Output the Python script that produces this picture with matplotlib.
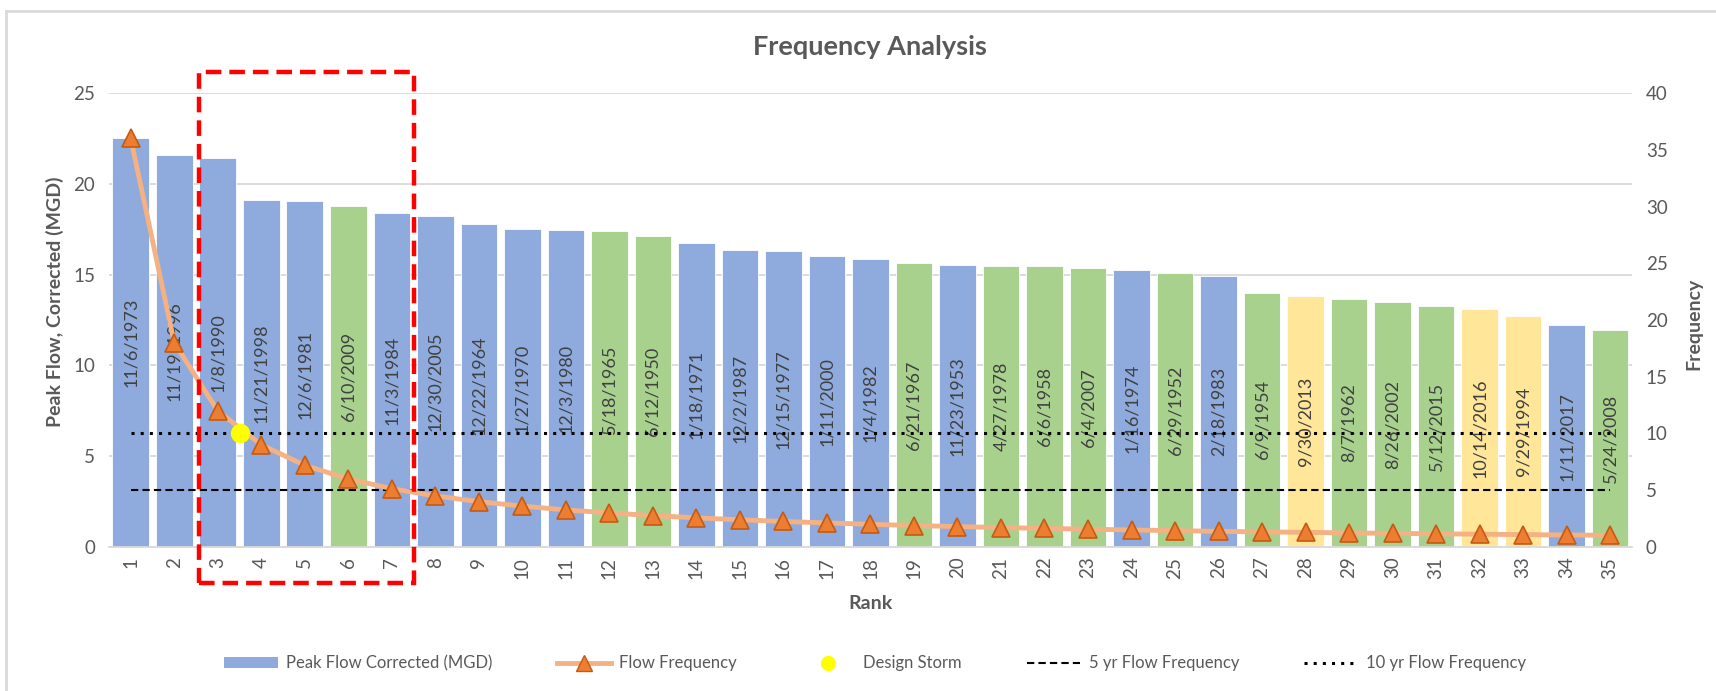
import numpy as np
import matplotlib.pyplot as plt
from matplotlib.patches import Rectangle, Patch
from matplotlib.lines import Line2D
from matplotlib.transforms import blended_transform_factory

plt.rcParams['font.family'] = ['Lato', 'DejaVu Sans']

# data
ranks = np.arange(1, 36)
peak_flow = [22.5, 21.6, 21.4, 19.1, 19.05, 18.8, 18.4, 18.2, 17.8, 17.5,
             17.45, 17.4, 17.1, 16.75, 16.35, 16.3, 16.0, 15.85, 15.65, 15.55,
             15.5, 15.45, 15.35, 15.25, 15.1, 14.9, 14.0, 13.8, 13.65, 13.5,
             13.25, 13.1, 12.7, 12.2, 11.95]
flow_freq = [36.0, 18.0, 12.0, 9.0, 7.2, 6.0, 5.14, 4.5, 4.0, 3.6,
             3.27, 3.0, 2.77, 2.57, 2.4, 2.25, 2.12, 2.0, 1.89, 1.8,
             1.71, 1.64, 1.57, 1.5, 1.44, 1.38, 1.33, 1.29, 1.24, 1.2,
             1.16, 1.13, 1.09, 1.06, 1.03]
dates = ['11/6/1973', '11/19/1996', '1/8/1990', '11/21/1998', '12/6/1981',
         '6/10/2009', '11/3/1984', '12/30/2005', '12/22/1964', '1/27/1970',
         '12/3/1980', '5/18/1965', '6/12/1950', '1/18/1971', '12/2/1987',
         '12/15/1977', '1/11/2000', '1/4/1982', '6/21/1967', '11/23/1953',
         '4/27/1978', '6/6/1958', '6/4/2007', '1/16/1974', '6/29/1952',
         '2/18/1983', '6/9/1954', '9/30/2013', '8/7/1962', '8/26/2002',
         '5/12/2015', '10/14/2016', '9/29/1994', '1/11/2017', '5/24/2008']
# W = winter storm, S = summer, F = fall
season = ['W', 'W', 'W', 'W', 'W', 'S', 'W', 'W', 'W', 'W',
          'W', 'S', 'S', 'W', 'W', 'W', 'W', 'W', 'S', 'W',
          'S', 'S', 'S', 'W', 'S', 'W', 'S', 'F', 'S', 'S',
          'S', 'F', 'F', 'W', 'S']
design_storm_x = 3.5
design_storm_y = 10.0
five_yr = 5.0
ten_yr = 10.0

season_colors = {'W': '#8FAADC', 'S': '#A9D18E', 'F': '#FFE699'}
txt = '#595959'

fig = plt.figure(figsize=(17.16, 6.91), dpi=100)
ax = fig.add_axes([0.0635, 0.2084, 0.8875, 0.657])
ax2 = ax.twinx()

ax.bar(ranks, peak_flow, width=0.84, color=[season_colors[s] for s in season],
       edgecolor='white', linewidth=0.6, zorder=2)
for r, v, d in zip(ranks, peak_flow, dates):
    ax.text(r, v / 2, d, rotation=90, ha='center', va='center',
            fontsize=13, color='#404040', zorder=3)

ax.set_xlim(0.5, 35.5)
ax.set_ylim(0, 25)
ax.set_yticks(range(0, 26, 5))
ax.set_xticks(ranks)
ax.set_xticklabels([str(r) for r in ranks], rotation=90)
ax.grid(axis='y', color='#D9D9D9', linewidth=1.3, zorder=0)
ax.set_axisbelow(True)
for s in ['top', 'left', 'right']:
    ax.spines[s].set_visible(False)
ax.spines['bottom'].set_color('#D9D9D9')
ax.spines['bottom'].set_linewidth(1.3)
ax.tick_params(axis='both', length=0, labelsize=13.5, labelcolor=txt)
ax.tick_params(axis='y', pad=10)
ax.tick_params(axis='x', pad=7)

ax2.set_ylim(0, 40)
ax2.set_yticks(range(0, 41, 5))
for s in ['top', 'left', 'right', 'bottom']:
    ax2.spines[s].set_visible(False)
ax2.tick_params(axis='y', length=0, labelsize=13.5, labelcolor=txt, pad=10)

ax2.hlines(ten_yr, ranks[0], ranks[-1], colors='black', linestyles=(0, (1, 2)),
           linewidth=2.2, zorder=3)
ax2.hlines(five_yr, ranks[0], ranks[-1], colors='black', linestyles=(0, (3.5, 2)),
           linewidth=1.5, zorder=3)
ax2.plot(ranks, flow_freq, color='#F4B183', linewidth=3.5, zorder=4)
ax2.plot(ranks, flow_freq, linestyle='none', marker='^', markersize=13,
         markerfacecolor='#ED7D31', markeredgecolor='#C55A11', markeredgewidth=1.2,
         zorder=5)
ax2.plot([design_storm_x], [design_storm_y], linestyle='none', marker='o',
         markersize=13, color='#FFFF00', zorder=6)

# red dashed highlight box
tr = blended_transform_factory(ax2.transData, ax2.transAxes)
box = Rectangle((2.56, -0.08), 4.94, 1.126, transform=tr, fill=False,
                edgecolor='#FF0000', linewidth=3.2, linestyle=(0, (3.5, 1.8)),
                clip_on=False, zorder=7)
ax2.add_patch(box)

fig.text(0.507, 0.932, 'Frequency Analysis', ha='center', va='center',
         fontsize=19.5, fontweight='bold', color=txt)
fig.text(0.507, 0.126, 'Rank', ha='center', va='center',
         fontsize=14, fontweight='bold', color=txt)
fig.text(0.032, 0.564, 'Peak Flow, Corrected (MGD)', rotation=90, ha='center',
         va='center', fontsize=14, fontweight='bold', color=txt)
fig.text(0.987, 0.532, 'Frequency', rotation=90, ha='center', va='center',
         fontsize=14, fontweight='bold', color=txt)

handles = [Patch(facecolor='#8FAADC'),
           Line2D([], [], color='#F4B183', linewidth=3.5, marker='^', markersize=11,
                  markerfacecolor='#ED7D31', markeredgecolor='#C55A11'),
           Line2D([], [], linestyle='none', marker='o', markersize=10, color='#FFFF00'),
           Line2D([], [], color='black', linestyle=(0, (3.5, 2)), linewidth=1.5),
           Line2D([], [], color='black', linestyle=(0, (1, 2)), linewidth=2.2)]
labels = ['Peak Flow Corrected (MGD)', 'Flow Frequency', 'Design Storm',
          '5 yr Flow Frequency', '10 yr Flow Frequency']
leg = fig.legend(handles, labels, loc='center', bbox_to_anchor=(0.51, 0.04), ncol=5,
                 frameon=False, fontsize=12, handlelength=3.2, columnspacing=3.9,
                 handletextpad=0.5)
for t in leg.get_texts():
    t.set_color(txt)

# outer chart border (left and top edges visible)
fig.add_artist(Line2D([0.0035, 0.0035], [0, 0.984], color='#D9D9D9', linewidth=2,
                      transform=fig.transFigure))
fig.add_artist(Line2D([0.0035, 1], [0.984, 0.984], color='#D9D9D9', linewidth=2,
                      transform=fig.transFigure))

fig.savefig('out.png', dpi=100)
